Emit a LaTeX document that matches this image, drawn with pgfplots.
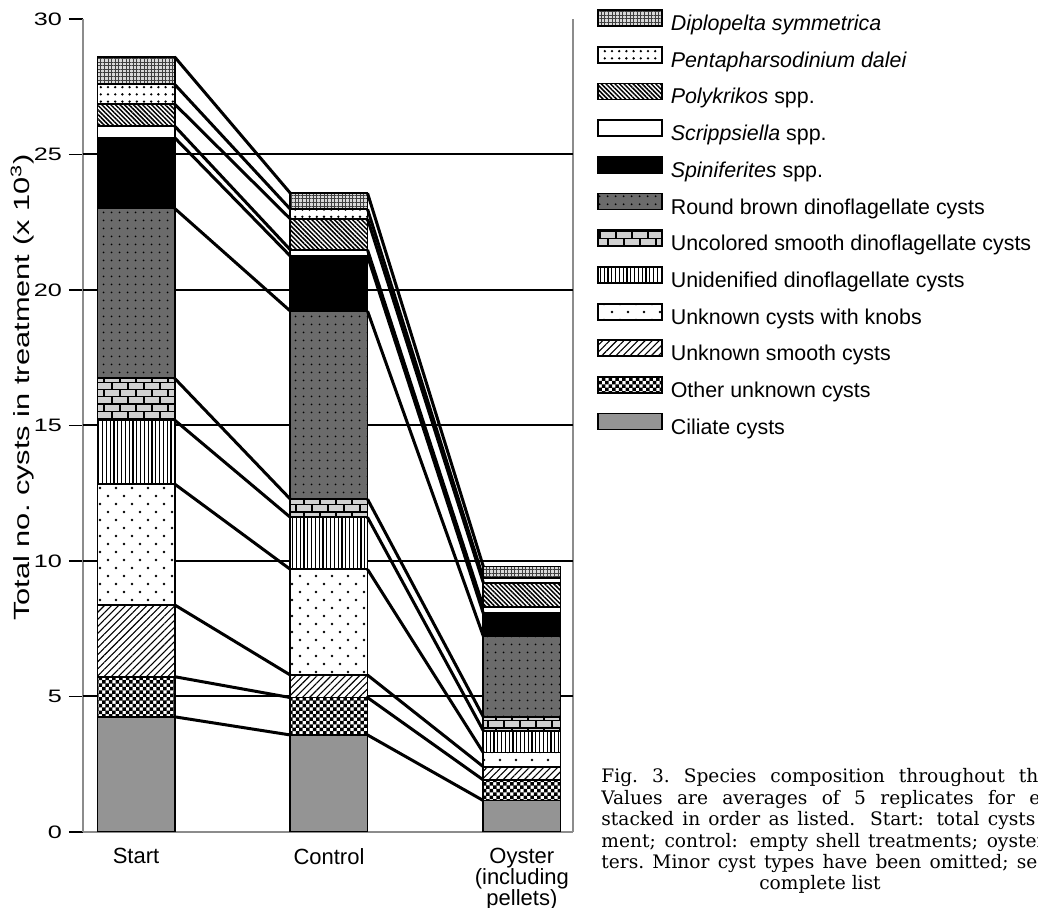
\documentclass[border=0pt]{standalone}
\usepackage{pgfplots}
\pgfplotsset{compat=1.18}
\usepackage{pgfplotstable}
\usepackage{graphicx}
\usepackage{fontspec}
\setmainfont{Liberation Sans}
\newfontfamily\capfont{DejaVu Serif}
\usetikzlibrary{patterns,patterns.meta}

% brick, checker and knob patterns
\pgfdeclarepatternformonly{bricksm}{\pgfqpoint{-0.5pt}{-0.5pt}}{\pgfqpoint{8.5pt}{7.7pt}}{\pgfqpoint{8pt}{7.2pt}}{%
  \pgfsetlinewidth{0.6pt}%
  \pgfpathmoveto{\pgfqpoint{0pt}{0pt}}\pgfpathlineto{\pgfqpoint{8pt}{0pt}}%
  \pgfpathmoveto{\pgfqpoint{0pt}{3.6pt}}\pgfpathlineto{\pgfqpoint{8pt}{3.6pt}}%
  \pgfpathmoveto{\pgfqpoint{0pt}{0pt}}\pgfpathlineto{\pgfqpoint{0pt}{3.6pt}}%
  \pgfpathmoveto{\pgfqpoint{4pt}{3.6pt}}\pgfpathlineto{\pgfqpoint{4pt}{7.2pt}}%
  \pgfusepath{stroke}}
\pgfdeclarepatternformonly{checkm}{\pgfqpoint{-0.1pt}{-0.1pt}}{\pgfqpoint{3.5pt}{3.5pt}}{\pgfqpoint{3.4pt}{3.4pt}}{%
  \pgfpathrectangle{\pgfpointorigin}{\pgfqpoint{1.75pt}{1.75pt}}%
  \pgfpathrectangle{\pgfqpoint{1.7pt}{1.7pt}}{\pgfqpoint{1.75pt}{1.75pt}}%
  \pgfusepath{fill}}
\pgfdeclarepatternformonly{knobs}{\pgfqpoint{-1pt}{-1pt}}{\pgfqpoint{9pt}{9pt}}{\pgfqpoint{8pt}{8pt}}{%
  \pgfpathcircle{\pgfqpoint{2pt}{2pt}}{0.65pt}%
  \pgfpathcircle{\pgfqpoint{6pt}{6pt}}{0.65pt}%
  \pgfusepath{fill}}

\tikzset{
  dip/.style={preaction={fill=black!15}, pattern={Hatch[distance=1.8pt,line width=0.4pt]}, pattern color=black!75},
  pen/.style={preaction={fill=white}, pattern={Dots[distance=3.6pt,radius=0.65pt]}, pattern color=black},
  pol/.style={preaction={fill=white}, pattern={Lines[angle=-45,distance=1.6pt,line width=0.75pt]}, pattern color=black},
  scr/.style={fill=white},
  spi/.style={fill=black},
  rou/.style={preaction={fill=black!58}, pattern={Dots[distance=4pt,radius=0.55pt]}, pattern color=black},
  unc/.style={preaction={fill=black!18}, pattern=bricksm, pattern color=black},
  uni/.style={preaction={fill=white}, pattern={Lines[angle=90,distance=1.9pt,line width=0.6pt]}, pattern color=black},
  kno/.style={preaction={fill=white}, pattern=knobs, pattern color=black},
  smo/.style={preaction={fill=white}, pattern={Lines[angle=45,distance=2.5pt,line width=0.55pt]}, pattern color=black},
  oth/.style={preaction={fill=white}, pattern=checkm, pattern color=black},
  cil/.style={fill=black!42},
  joinline/.style={black, solid, no markers, line width=1.5pt},
}
\newcommand{\wide}[1]{\scalebox{1.4}[1]{#1}}

% cysts per treatment (x 10^3), one column per cyst type, bottom to top
\pgfplotstableread{
x cil oth smo kno uni unc rou spi scr pol pen dip
0 4.25 1.48 2.65 4.46 2.36 1.54 6.27 2.61 0.43 0.81 0.73 1.01
1 3.58 1.38 0.83 3.90 1.92 0.67 6.94 2.03 0.23 1.14 0.36 0.59
2 1.16 0.76 0.49 0.52 0.81 0.51 2.98 0.84 0.24 0.89 0.16 0.44
}\cysts

\begin{document}
\begin{tikzpicture}
\useasboundingbox (-41.5pt,-38pt) rectangle (477.5pt,416pt);
\begin{axis}[
    scale only axis, width=245pt, height=406.5pt,
    xmin=-0.275, xmax=2.265, ymin=0, ymax=30,
    ybar stacked, bar width=0.4,
    axis x line=bottom, axis y line=box,
    axis line style={-, draw=black!45, line width=0.6pt},
    ytick={0,5,...,30},
    yticklabels={\wide{0},\wide{5},\wide{10},\wide{15},\wide{20},\wide{25},\wide{30}},
    yticklabel style={font=\fontsize{9}{10}\selectfont},
    ytick pos=left, tick align=outside, major tick length=7pt,
    ytick style={black, line width=0.9pt},
    extra y ticks={5,10,15,20,25}, extra y tick labels={},
    extra y tick style={grid=major, major tick length=0pt},
    major grid style={black, line width=1pt},
    xtick={0,1,2},
    xticklabels={Start,Control,{Oyster\\(including\\pellets)}},
    x tick label style={align=center, font=\fontsize{11}{10.4}\selectfont, yshift=2.5pt},
    xtick style={draw=none},
    ylabel={\wide{Total no.\ cysts in treatment (x 10\textsuperscript{3})}},
    ylabel style={at={(axis description cs:-0.124,0.547)}, anchor=center, font=\fontsize{11}{13}\selectfont},
    every axis plot/.append style={draw=black, line width=0.9pt},
    every axis plot post/.append style={legend image code/.code={\draw[##1,line width=0.7pt] (0pt,-0.5pt) rectangle (32pt,7.5pt);}},
    reverse legend,
    legend cell align=left,
    legend style={draw=none, fill=none, at={(1,1)}, anchor=north west, xshift=12pt, yshift=5pt,
        inner sep=0pt, column sep=4pt, row sep=5.25pt,
        font=\fontsize{10.7}{13}\selectfont,
        nodes={inner sep=0pt, text height=8pt, text depth=2.5pt}},
]
\addplot[cil] table[x=x,y=cil]{\cysts};
\addplot[oth] table[x=x,y=oth]{\cysts};
\addplot[smo] table[x=x,y=smo]{\cysts};
\addplot[kno] table[x=x,y=kno]{\cysts};
\addplot[uni] table[x=x,y=uni]{\cysts};
\addplot[unc] table[x=x,y=unc]{\cysts};
\addplot[rou] table[x=x,y=rou]{\cysts};
\addplot[spi] table[x=x,y=spi]{\cysts};
\addplot[scr] table[x=x,y=scr]{\cysts};
\addplot[pol] table[x=x,y=pol]{\cysts};
\addplot[pen] table[x=x,y=pen]{\cysts};
\addplot[dip] table[x=x,y=dip]{\cysts};
\legend{Ciliate cysts, Other unknown cysts, Unknown smooth cysts, Unknown cysts with knobs,
  Unidenified dinoflagellate cysts, Uncolored smooth dinoflagellate cysts,
  Round brown dinoflagellate cysts, \textit{Spiniferites} spp., \textit{Scrippsiella} spp.,
  \textit{Polykrikos} spp., \textit{Pentapharsodinium dalei}, \textit{Diplopelta symmetrica}}
\end{axis}
% lines joining equal stack boundaries of neighbouring bars
\begin{axis}[
    scale only axis, width=245pt, height=406.5pt,
    xmin=-0.275, xmax=2.265, ymin=0, ymax=30,
    hide axis, unbounded coords=jump,
]
\addplot[joinline] coordinates {(0.2,4.25)(0.8,3.58)(1,nan)(1.2,3.58)(1.8,1.16)};
\addplot[joinline] coordinates {(0.2,5.73)(0.8,4.96)(1,nan)(1.2,4.96)(1.8,1.92)};
\addplot[joinline] coordinates {(0.2,8.38)(0.8,5.79)(1,nan)(1.2,5.79)(1.8,2.41)};
\addplot[joinline] coordinates {(0.2,12.84)(0.8,9.69)(1,nan)(1.2,9.69)(1.8,2.93)};
\addplot[joinline] coordinates {(0.2,15.20)(0.8,11.61)(1,nan)(1.2,11.61)(1.8,3.74)};
\addplot[joinline] coordinates {(0.2,16.74)(0.8,12.28)(1,nan)(1.2,12.28)(1.8,4.25)};
\addplot[joinline] coordinates {(0.2,23.01)(0.8,19.22)(1,nan)(1.2,19.22)(1.8,7.23)};
\addplot[joinline] coordinates {(0.2,25.62)(0.8,21.25)(1,nan)(1.2,21.25)(1.8,8.07)};
\addplot[joinline] coordinates {(0.2,26.05)(0.8,21.48)(1,nan)(1.2,21.48)(1.8,8.31)};
\addplot[joinline] coordinates {(0.2,26.86)(0.8,22.62)(1,nan)(1.2,22.62)(1.8,9.20)};
\addplot[joinline] coordinates {(0.2,27.59)(0.8,22.98)(1,nan)(1.2,22.98)(1.8,9.36)};
\addplot[joinline] coordinates {(0.2,28.60)(0.8,23.57)(1,nan)(1.2,23.57)(1.8,9.80)};
\end{axis}
% caption, cut off at the right edge as in the source
\begin{scope}[every node/.style={anchor=base west, inner sep=0pt, font=\capfont\fontsize{9.3}{11}\selectfont}]
\node at (259pt,24.5pt) {\frenchspacing\makebox[218.5pt][s]{Fig. 3. Species composition throughout th}};
\node at (259pt,13.8pt) {\makebox[219.5pt][s]{Values are averages of 5 replicates for e}};
\node at (259pt,3.1pt) {\makebox[217pt][s]{stacked in order as listed. Start: total cysts}};
\node at (259pt,-7.6pt) {\makebox[222pt][s]{ment; control: empty shell treatments; oyster}};
\node at (259pt,-18.3pt) {\frenchspacing\makebox[218pt][s]{ters. Minor cyst types have been omitted; se}};
\node[anchor=base] at (368.5pt,-29pt) {complete list};
\end{scope}
\end{tikzpicture}
\end{document}
